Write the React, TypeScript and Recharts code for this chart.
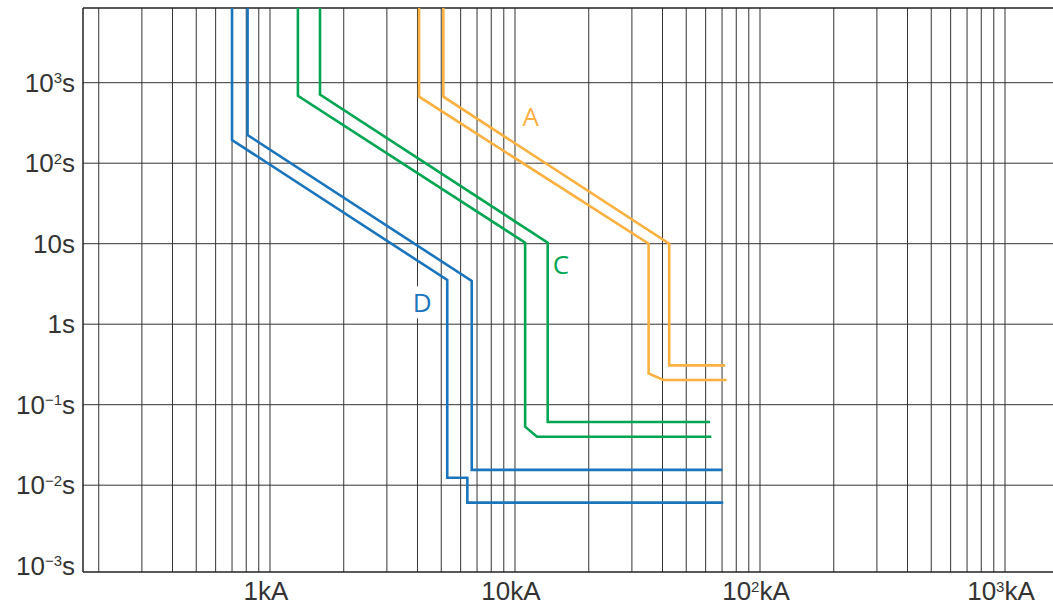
import { LineChart, Line, XAxis, YAxis, CartesianGrid, ReferenceLine, ReferenceDot } from "recharts";

// Axis ranges (current in kA, time in s), both logarithmic
const I_MIN = 0.1725;
const I_MAX = 1570;
const T_MIN = 0.000835;
const T_MAX = 8470;

// Vertical grid: every 1..9 step of each decade
const xGridValues = [
  0.2, 0.3, 0.4, 0.5, 0.6, 0.7, 0.8, 0.9,
  1, 2, 3, 4, 5, 6, 7, 8, 9,
  10, 20, 30, 40, 50, 60, 70, 80, 90,
  100, 200, 300, 400, 500, 600, 700, 800, 900,
  1000,
];
const yGridValues = [0.01, 0.1, 1, 10, 100, 1000];

// Tick labels: [base, exponent, unit]
const xTickValues = [1, 10, 100, 1000];
const xTickLabels = [
  ["1", "", "kA"],
  ["10", "", "kA"],
  ["10", "2", "kA"],
  ["10", "3", "kA"],
];
const yTickValues = [0.001, 0.01, 0.1, 1, 10, 100, 1000];
const yTickLabels = [
  ["10", "\u22123", "s"],
  ["10", "\u22122", "s"],
  ["10", "\u22121", "s"],
  ["1", "", "s"],
  ["10", "", "s"],
  ["10", "2", "s"],
  ["10", "3", "s"],
];

// Tripping curves
const curveD1 = [
  { i: 0.7, t: T_MAX },
  { i: 0.7, t: 194 },
  { i: 5.29, t: 3.54 },
  { i: 5.29, t: 0.0124 },
  { i: 6.39, t: 0.0124 },
  { i: 6.39, t: 0.00607 },
  { i: 70.8, t: 0.00607 },
];
const curveD2 = [
  { i: 0.81, t: T_MAX },
  { i: 0.81, t: 224 },
  { i: 6.66, t: 3.44 },
  { i: 6.66, t: 0.0155 },
  { i: 70.2, t: 0.0155 },
];
const curveC1 = [
  { i: 1.3, t: T_MAX },
  { i: 1.3, t: 689 },
  { i: 11.0, t: 10.3 },
  { i: 11.0, t: 0.0533 },
  { i: 12.3, t: 0.04 },
  { i: 63.3, t: 0.04 },
];
const curveC2 = [
  { i: 1.6, t: T_MAX },
  { i: 1.6, t: 710 },
  { i: 13.6, t: 10.3 },
  { i: 13.6, t: 0.061 },
  { i: 62.5, t: 0.061 },
];
const curveA1 = [
  { i: 4.06, t: T_MAX },
  { i: 4.06, t: 670 },
  { i: 35.1, t: 10.0 },
  { i: 35.1, t: 0.245 },
  { i: 40.3, t: 0.203 },
  { i: 73.1, t: 0.203 },
];
const curveA2 = [
  { i: 5.1, t: T_MAX },
  { i: 5.1, t: 670 },
  { i: 42.6, t: 10.0 },
  { i: 42.6, t: 0.308 },
  { i: 72.1, t: 0.308 },
];

// Curve family labels
const labelNames = ["A", "C", "D"];
const labelCurrents = [11.6, 15.4, 4.18];
const labelTimes = [380, 5.44, 1.87];

const BLUE = "#1b75bc";
const GREEN = "#00a651";
const ORANGE = "#fbb040";
const labelColors: Record<string, string> = { A: ORANGE, C: GREEN, D: BLUE };

const series = [
  { key: "d1", data: curveD1, color: BLUE },
  { key: "d2", data: curveD2, color: BLUE },
  { key: "c1", data: curveC1, color: GREEN },
  { key: "c2", data: curveC2, color: GREEN },
  { key: "a1", data: curveA1, color: ORANGE },
  { key: "a2", data: curveA2, color: ORANGE },
];

const TICK_FONT = "'Liberation Sans', Arial, Helvetica, sans-serif";

function PowerText({ x, y, parts, anchor, dx = 0 }: any) {
  const [base, exp, unit] = parts;
  return (
    <text x={x + dx} y={y} textAnchor={anchor} fontFamily={TICK_FONT} fontSize={26} fill="#333">
      <tspan>{base}</tspan>
      {exp ? (
        <tspan fontSize={15} dy={-8.5}>
          {exp}
        </tspan>
      ) : null}
      <tspan dy={exp ? 8.5 : 0}>{unit}</tspan>
    </text>
  );
}

function XTick(props: any) {
  const { x, y, payload } = props;
  const idx = xTickValues.indexOf(payload.value);
  if (idx < 0) return null;
  return <PowerText x={x} y={y + 20} parts={xTickLabels[idx]} anchor="middle" dx={-4} />;
}

function YTick(props: any) {
  const { x, y, payload } = props;
  const idx = yTickValues.findIndex((v) => Math.abs(v - payload.value) / v < 1e-6);
  if (idx < 0) return null;
  return <PowerText x={x} y={y + 9} parts={yTickLabels[idx]} anchor="end" />;
}

function CurveLabel(props: any) {
  const { cx, cy, name } = props;
  const color = labelColors[name];
  return (
    <g>
      {name === "D" ? <rect x={cx - 11} y={cy - 16} width={22} height={32} fill="#fff" /> : null}
      <text
        x={cx}
        y={cy + 9.5}
        textAnchor="middle"
        fontFamily="'Open Sans', 'Noto Sans', sans-serif"
        fontSize={26}
        fill={color}
      >
        {name}
      </text>
    </g>
  );
}

export default function App() {
  return (
    <div style={{ width: 1053, height: 607, background: "#fff" }}>
      <style>{"body{margin:0}"}</style>
      <LineChart width={1053} height={607} margin={{ top: 8, right: 0, bottom: 0, left: 0 }}>
        <CartesianGrid
          stroke="#333"
          strokeWidth={1}
          verticalValues={xGridValues}
          horizontalValues={yGridValues}
        />
        <XAxis
          dataKey="i"
          type="number"
          scale="log"
          domain={[I_MIN, I_MAX]}
          allowDataOverflow
          ticks={xGridValues}
          interval={0}
          height={35}
          tickLine={false}
          axisLine={{ stroke: "#222", strokeWidth: 1.5 }}
          tick={<XTick />}
        />
        <YAxis
          dataKey="t"
          type="number"
          scale="log"
          domain={[T_MIN, T_MAX]}
          allowDataOverflow
          ticks={yTickValues}
          interval={0}
          width={83}
          tickLine={false}
          axisLine={{ stroke: "#222", strokeWidth: 1.5 }}
          tick={<YTick />}
        />
        <ReferenceLine y={T_MAX} stroke="#222" strokeWidth={1.5} />
        {series.map((s) => (
          <Line
            key={s.key}
            data={s.data}
            dataKey="t"
            type="linear"
            stroke={s.color}
            strokeWidth={2.6}
            dot={false}
            activeDot={false}
            isAnimationActive={false}
          />
        ))}
        {labelNames.map((name, k) => (
          <ReferenceDot
            key={name}
            x={labelCurrents[k]}
            y={labelTimes[k]}
            r={0}
            shape={(p: any) => <CurveLabel {...p} name={name} />}
          />
        ))}
      </LineChart>
    </div>
  );
}
